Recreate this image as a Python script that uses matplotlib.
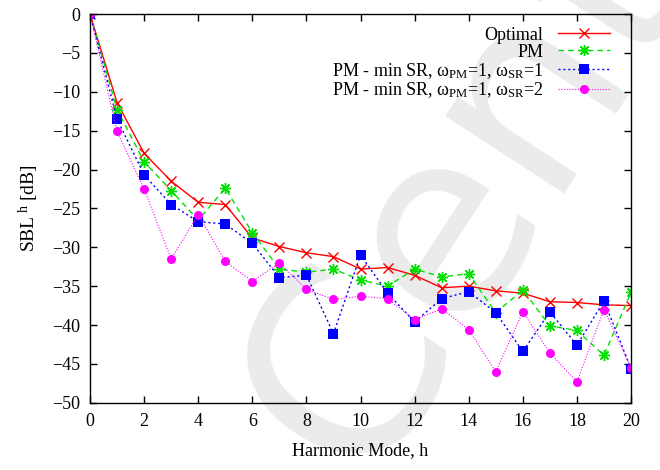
import matplotlib
matplotlib.use("Agg")
import matplotlib.pyplot as plt
import numpy as np

plt.rcParams['font.family'] = ['Liberation Serif', 'DejaVu Serif']
plt.rcParams['mathtext.fontset'] = 'custom'
plt.rcParams['mathtext.rm'] = 'Liberation Serif'
plt.rcParams['mathtext.it'] = 'Liberation Serif:italic'

harmonics = list(range(0, 21))
optimal = [0, -11.4, -17.9, -21.5, -24.2, -24.5, -28.8, -29.9, -30.7, -31.2, -32.8,
           -32.6, -33.6, -35.2, -35.0, -35.6, -35.9, -37.0, -37.1, -37.4, -37.5]
pm = [0, -12.3, -19.0, -22.7, -26.5, -22.4, -28.1, -32.8, -33.2, -32.8, -34.2,
      -35.0, -32.8, -33.8, -33.4, -38.4, -35.5, -40.1, -40.7, -43.9, -35.8]
pm_sr1 = [0, -13.5, -20.7, -24.5, -26.7, -27.0, -29.5, -33.9, -33.6, -41.1, -31.0,
          -35.9, -39.6, -36.6, -35.7, -38.4, -43.4, -38.3, -42.6, -36.9, -45.6]
pm_sr2 = [0, -15.1, -22.5, -31.5, -25.8, -31.8, -34.4, -32.0, -35.4, -36.7, -36.3,
          -36.6, -39.3, -37.9, -40.6, -46.0, -38.3, -43.6, -47.3, -38.0, -45.5]

labels = ['Optimal', 'PM',
          'PM - min SR, ω$_{\\mathrm{PM}}$=1, ω$_{\\mathrm{SR}}$=1',
          'PM - min SR, ω$_{\\mathrm{PM}}$=1, ω$_{\\mathrm{SR}}$=2']

fig = plt.figure(figsize=(6.6, 4.7), dpi=100)
ax = fig.add_axes([0.1364, 0.143, 0.8197, 0.827])
ax.set_facecolor('none')

# watermark (behind the data)
ax.text(0.5465, -0.031, 'Centre', fontsize=186, color='#ebebeb', rotation=57,
        rotation_mode='anchor', ha='left', va='baseline', family='DejaVu Sans',
        zorder=0, transform=fig.transFigure, clip_on=False)

ax.plot(harmonics, optimal, color='#ff0000', ls='-', lw=1.0, marker='x', ms=7, mew=1.0,
        label=labels[0], zorder=3)
ax.plot(harmonics, pm, color='#00e000', ls=(0, (4, 3)), lw=1.0, marker=(8, 2, 0), ms=8,
        mew=1.0, label=labels[1], zorder=3)
ax.plot(harmonics, pm_sr1, color='#0000ff', ls=(0, (1.5, 2)), lw=1.0, marker='s', ms=7,
        mew=0, label=labels[2], zorder=3)
ax.plot(harmonics, pm_sr2, color='#ff00ff', ls=(0, (1, 1.5)), lw=0.8, marker='o', ms=6.5,
        mew=0, label=labels[3], zorder=3)

ax.set_xlim(0, 20)
ax.set_ylim(-50, 0)
ax.set_xticks(range(0, 21, 2))
ax.set_yticks(range(-50, 1, 5))
ax.tick_params(direction='in', top=True, right=True, length=5, width=1, labelsize=13,
               pad=7)
for s in ax.spines.values():
    s.set_linewidth(1.0)
    s.set_zorder(4)

ax.set_xlabel('Harmonic Mode, h', fontsize=13, labelpad=9)
ax.set_ylabel(r'SBL$^{\ \mathrm{h}}$ [dB]', fontsize=14, labelpad=8)

leg = ax.legend(loc='upper right', bbox_to_anchor=(0.985, 1.0), frameon=False,
                markerfirst=False, fontsize=13, handlelength=2.9, labelspacing=0.0,
                handletextpad=0.8, borderaxespad=0.3)
leg.set_zorder(5)
for t in leg.get_texts():
    t.set_ha('right')

fig.savefig('out.png', dpi=100)
